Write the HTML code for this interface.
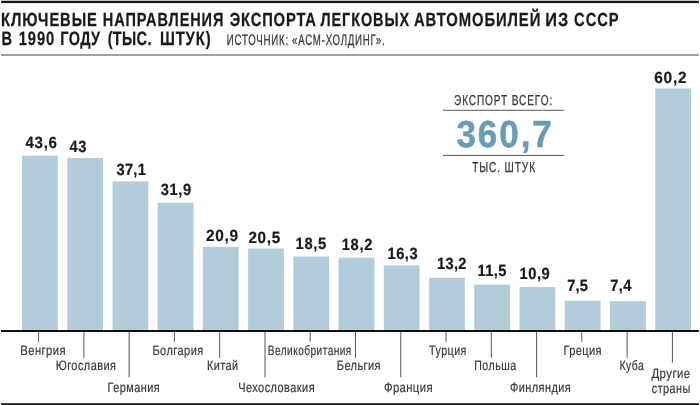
<!DOCTYPE html>
<html lang="ru"><head><meta charset="utf-8"><title>Ключевые направления экспорта легковых автомобилей из СССР в 1990 году</title>
<style>html,body{margin:0;padding:0;background:#fff}body{width:700px;height:405px;overflow:hidden}svg{display:block}text{font-family:"Liberation Sans",sans-serif;white-space:pre;text-rendering:geometricPrecision}.b{font-weight:bold;fill:#1a1a1a;stroke:#1a1a1a;stroke-width:0.25px}.v{font-weight:bold;fill:#1a1a1a;stroke:#1a1a1a;stroke-width:0.2px}.r{fill:#3a3a3a;stroke:#3a3a3a;stroke-width:0.28px}.n{fill:#3a3a3a;stroke:#3a3a3a;stroke-width:0.2px}.big{font-weight:bold;fill:#6b9bb4;stroke:#6b9bb4;stroke-width:0.5px}</style></head><body>
<svg width="700" height="405" viewBox="0 0 700 405">
<rect width="700" height="405" fill="#fff"/>
<rect x="1.2" y="0" width="697.7" height="1.5" fill="#c4c4c4"/>
<rect x="1.2" y="1" width="697.7" height="2.1" fill="#151515"/>
<rect x="1" y="54" width="697.9" height="2" fill="#a0a0a0"/>
<rect x="22.0" y="155.6" width="35.8" height="174.4" fill="#b2cdd9"/>
<rect x="38.1" y="330.0" width="1" height="11.9" fill="#555"/>
<rect x="67.2" y="158.0" width="35.8" height="172.0" fill="#b2cdd9"/>
<rect x="83.4" y="330.0" width="1" height="27.8" fill="#555"/>
<rect x="112.5" y="181.4" width="35.8" height="148.6" fill="#b2cdd9"/>
<rect x="128.6" y="330.0" width="1" height="47.2" fill="#555"/>
<rect x="157.7" y="202.7" width="35.8" height="127.3" fill="#b2cdd9"/>
<rect x="173.9" y="330.0" width="1" height="11.9" fill="#555"/>
<rect x="202.9" y="246.9" width="35.8" height="83.1" fill="#b2cdd9"/>
<rect x="219.2" y="330.0" width="1" height="27.8" fill="#555"/>
<rect x="248.1" y="248.5" width="35.8" height="81.5" fill="#b2cdd9"/>
<rect x="264.5" y="330.0" width="1" height="47.2" fill="#555"/>
<rect x="293.4" y="256.5" width="35.8" height="73.5" fill="#b2cdd9"/>
<rect x="309.7" y="330.0" width="1" height="11.9" fill="#555"/>
<rect x="338.6" y="257.7" width="35.8" height="72.3" fill="#b2cdd9"/>
<rect x="355.0" y="330.0" width="1" height="27.8" fill="#555"/>
<rect x="383.8" y="265.4" width="35.8" height="64.6" fill="#b2cdd9"/>
<rect x="400.3" y="330.0" width="1" height="47.2" fill="#555"/>
<rect x="429.1" y="277.8" width="35.8" height="52.2" fill="#b2cdd9"/>
<rect x="445.5" y="330.0" width="1" height="11.9" fill="#555"/>
<rect x="474.3" y="284.7" width="35.8" height="45.3" fill="#b2cdd9"/>
<rect x="490.8" y="330.0" width="1" height="27.8" fill="#555"/>
<rect x="519.5" y="287.1" width="35.8" height="42.9" fill="#b2cdd9"/>
<rect x="536.1" y="330.0" width="1" height="47.2" fill="#555"/>
<rect x="564.8" y="300.8" width="35.8" height="29.2" fill="#b2cdd9"/>
<rect x="581.3" y="330.0" width="1" height="11.9" fill="#555"/>
<rect x="610.0" y="301.2" width="35.8" height="28.8" fill="#b2cdd9"/>
<rect x="626.6" y="330.0" width="1" height="27.8" fill="#555"/>
<rect x="655.2" y="88.4" width="35.8" height="241.6" fill="#b2cdd9"/>
<rect x="671.9" y="330.0" width="1" height="32.8" fill="#555"/>
<rect x="1" y="330" width="697.9" height="2" fill="#111"/>
<rect x="1" y="403.2" width="697.9" height="1.8" fill="#1a1a1a"/>
<rect x="442.9" y="109.8" width="121.3" height="0.9" fill="#444"/>
<rect x="442.9" y="154.9" width="121.3" height="0.9" fill="#444"/>
<text class="b" transform="translate(1.07 25.60) scale(0.776 1)" font-size="19.0" textLength="123.43" lengthAdjust="spacing">КЛЮЧЕВЫЕ</text>
<text class="b" transform="translate(102.84 25.60) scale(0.765 1)" font-size="19.0" textLength="157.61" lengthAdjust="spacing">НАПРАВЛЕНИЯ</text>
<text class="b" transform="translate(229.63 25.60) scale(0.775 1)" font-size="19.0" textLength="111.44" lengthAdjust="spacing">ЭКСПОРТА</text>
<text class="b" transform="translate(320.50 25.60) scale(0.761 1)" font-size="19.0" textLength="116.49" lengthAdjust="spacing">ЛЕГКОВЫХ</text>
<text class="b" transform="translate(414.00 25.60) scale(0.780 1)" font-size="19.0" textLength="161.91" lengthAdjust="spacing">АВТОМОБИЛЕЙ</text>
<text class="b" transform="translate(545.26 25.60) scale(0.860 1)" font-size="19.0" textLength="26.60" lengthAdjust="spacing">ИЗ</text>
<text class="b" transform="translate(574.09 25.60) scale(0.775 1)" font-size="19.0" textLength="57.36" lengthAdjust="spacing">СССР</text>
<text class="b" transform="translate(1.53 44.80) scale(0.757 1)" font-size="19.3" textLength="11.59" lengthAdjust="spacing">В</text>
<text class="b" transform="translate(18.78 44.80) scale(0.764 1)" font-size="19.3" textLength="46.44" lengthAdjust="spacing">1990</text>
<text class="b" transform="translate(60.34 44.80) scale(0.750 1)" font-size="19.3" textLength="52.98" lengthAdjust="spacing">ГОДУ</text>
<text class="b" transform="translate(107.71 44.80) scale(0.750 1)" font-size="19.3" textLength="58.25" lengthAdjust="spacing">(ТЫС.</text>
<text class="b" transform="translate(159.88 44.80) scale(0.770 1)" font-size="19.3" textLength="65.85" lengthAdjust="spacing">ШТУК)</text>
<text class="r" transform="translate(226.78 44.80) scale(0.640 1)" font-size="15.1" textLength="96.01" lengthAdjust="spacing">ИСТОЧНИК:</text>
<text class="r" transform="translate(292.12 44.80) scale(0.640 1)" font-size="15.1" textLength="144.58" lengthAdjust="spacing">«АСМ-ХОЛДИНГ».</text>
<text class="v" transform="translate(25.50 147.80) scale(0.925 1)" font-size="16.3" textLength="33.96" lengthAdjust="spacing">43,6</text>
<text class="n" transform="translate(20.26 354.90) scale(0.826 1)" font-size="13.6" textLength="54.88" lengthAdjust="spacing">Венгрия</text>
<text class="v" transform="translate(69.61 152.00) scale(0.900 1)" font-size="16.3" textLength="18.62" lengthAdjust="spacing">43</text>
<text class="n" transform="translate(55.64 370.30) scale(0.804 1)" font-size="13.6" textLength="75.02" lengthAdjust="spacing">Югославия</text>
<text class="v" transform="translate(116.55 174.80) scale(0.900 1)" font-size="16.3" textLength="32.54" lengthAdjust="spacing">37,1</text>
<text class="n" transform="translate(107.62 392.10) scale(0.804 1)" font-size="13.6" textLength="64.80" lengthAdjust="spacing">Германия</text>
<text class="v" transform="translate(160.64 195.30) scale(0.900 1)" font-size="16.3" textLength="33.89" lengthAdjust="spacing">31,9</text>
<text class="n" transform="translate(152.44 354.90) scale(0.809 1)" font-size="13.6" textLength="62.80" lengthAdjust="spacing">Болгария</text>
<text class="v" transform="translate(205.97 240.90) scale(0.944 1)" font-size="16.3" textLength="33.91" lengthAdjust="spacing">20,9</text>
<text class="n" transform="translate(206.95 370.30) scale(0.799 1)" font-size="13.6" textLength="38.95" lengthAdjust="spacing">Китай</text>
<text class="v" transform="translate(248.38 243.00) scale(0.936 1)" font-size="16.3" textLength="34.17" lengthAdjust="spacing">20,5</text>
<text class="n" transform="translate(238.19 392.10) scale(0.806 1)" font-size="13.6" textLength="94.81" lengthAdjust="spacing">Чехословакия</text>
<text class="v" transform="translate(295.59 249.00) scale(0.904 1)" font-size="16.3" textLength="33.94" lengthAdjust="spacing">18,5</text>
<text class="n" transform="translate(267.77 354.90) scale(0.742 1)" font-size="13.6" textLength="112.61" lengthAdjust="spacing">Великобритания</text>
<text class="v" transform="translate(341.65 250.00) scale(0.902 1)" font-size="16.3" textLength="34.24" lengthAdjust="spacing">18,2</text>
<text class="n" transform="translate(336.84 370.30) scale(0.810 1)" font-size="13.6" textLength="53.91" lengthAdjust="spacing">Бельгия</text>
<text class="v" transform="translate(387.56 258.60) scale(0.900 1)" font-size="16.3" textLength="33.32" lengthAdjust="spacing">16,3</text>
<text class="n" transform="translate(383.92 392.10) scale(0.829 1)" font-size="13.6" textLength="58.60" lengthAdjust="spacing">Франция</text>
<text class="v" transform="translate(437.00 269.30) scale(0.900 1)" font-size="16.3" textLength="32.67" lengthAdjust="spacing">13,2</text>
<text class="n" transform="translate(429.07 354.90) scale(0.786 1)" font-size="13.6" textLength="47.52" lengthAdjust="spacing">Турция</text>
<text class="v" transform="translate(477.56 276.20) scale(0.900 1)" font-size="16.3" textLength="31.94" lengthAdjust="spacing">11,5</text>
<text class="n" transform="translate(474.23 370.30) scale(0.782 1)" font-size="13.6" textLength="53.58" lengthAdjust="spacing">Польша</text>
<text class="v" transform="translate(519.62 279.10) scale(0.900 1)" font-size="16.3" textLength="33.34" lengthAdjust="spacing">10,9</text>
<text class="n" transform="translate(509.90 392.10) scale(0.809 1)" font-size="13.6" textLength="75.27" lengthAdjust="spacing">Финляндия</text>
<text class="v" transform="translate(567.19 291.20) scale(0.900 1)" font-size="16.3" textLength="23.03" lengthAdjust="spacing">7,5</text>
<text class="n" transform="translate(563.39 354.90) scale(0.810 1)" font-size="13.6" textLength="47.07" lengthAdjust="spacing">Греция</text>
<text class="v" transform="translate(610.21 291.20) scale(0.900 1)" font-size="16.3" textLength="23.56" lengthAdjust="spacing">7,4</text>
<text class="n" transform="translate(619.55 370.30) scale(0.771 1)" font-size="13.6" textLength="31.55" lengthAdjust="spacing">Куба</text>
<text class="v" transform="translate(654.21 82.90) scale(0.950 1)" font-size="16.3" textLength="34.11" lengthAdjust="spacing">60,2</text>
<text class="n" transform="translate(651.44 378.30) scale(0.839 1)" font-size="13.6" textLength="46.16" lengthAdjust="spacing">Другие</text>
<text class="n" transform="translate(651.82 392.60) scale(0.799 1)" font-size="13.6" textLength="48.26" lengthAdjust="spacing">страны</text>
<text class="r" transform="translate(453.99 105.10) scale(0.700 1)" font-size="14.4" textLength="140.29" lengthAdjust="spacing">ЭКСПОРТ ВСЕГО:</text>
<text class="big" transform="translate(456.42 146.90) scale(0.930 1)" font-size="37.7" textLength="102.61" lengthAdjust="spacing">360,7</text>
<text class="r" transform="translate(472.13 172.00) scale(0.704 1)" font-size="14.4" textLength="89.41" lengthAdjust="spacing">ТЫС. ШТУК</text>
</svg></body></html>
